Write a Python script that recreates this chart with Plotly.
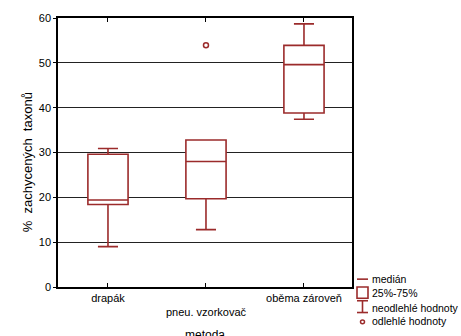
import plotly.graph_objects as go

categories = ["drapák", "pneu. vzorkovač", "oběma zároveň"]
tick_labels = ["drapák", "<br>pneu. vzorkovač", "oběma zároveň"]
lower_whisker = [9.0, 12.8, 37.4]
q1 = [18.4, 19.7, 38.8]
median = [19.4, 28.0, 49.6]
q3 = [29.6, 32.8, 53.9]
upper_whisker = [30.9, 32.8, 58.7]
outlier_cat = ["pneu. vzorkovač"]
outlier_val = [53.9]
y_ticks = [0, 10, 20, 30, 40, 50, 60]

RED = "#9b2b2b"
W, H = 461, 336
ML, MR, MT, MB = 58, 109, 13, 49
PW, PH = W - ML - MR, H - MT - MB

fig = go.Figure()
fig.add_trace(go.Box(
    x=categories, q1=q1, median=median, q3=q3,
    lowerfence=lower_whisker, upperfence=upper_whisker,
    fillcolor="white", line=dict(color=RED, width=1.6),
    width=0.41, whiskerwidth=0.5, boxpoints=False, showlegend=False,
    hoverinfo="skip",
))
fig.add_trace(go.Scatter(
    x=outlier_cat, y=outlier_val, mode="markers",
    marker=dict(symbol="circle-open", size=5, color=RED, line=dict(width=1.5, color=RED)),
    showlegend=False,
))

font = dict(family="Liberation Sans, Arial, sans-serif", size=11, color="black")

fig.update_layout(
    width=W, height=H, margin=dict(l=ML, r=MR, t=MT, b=MB),
    paper_bgcolor="white", plot_bgcolor="white", font=font,
    showlegend=False,
)
fig.update_xaxes(
    type="category", categoryorder="array", categoryarray=categories,
    tickmode="array", tickvals=categories, ticktext=tick_labels,
    range=[-0.51, 2.49], showgrid=False, zeroline=False,
    showline=True, linecolor="black", linewidth=1.5, mirror="ticks",
    ticks="inside", ticklen=4, tickcolor="black", tickfont=font,
)
fig.update_yaxes(
    range=[0, 60], tickvals=y_ticks, showgrid=True, gridcolor="#222222",
    gridwidth=1, zeroline=False, showline=True, linecolor="black",
    linewidth=1.5, mirror=True, ticks="outside", ticklen=3, tickcolor="black",
    tickfont=font,
)

def px(x):
    return (x - ML) / PW

def py(y):
    return (MT + PH - y) / PH

fig.add_annotation(text="metoda", xref="paper", yref="paper", x=px(205), y=py(328),
                   showarrow=False, font=dict(size=12), xanchor="center", yanchor="top",
                   borderpad=0)
fig.add_annotation(text="%  zachycených  taxonů", xref="paper", yref="paper", x=px(27), y=py(160),
                   showarrow=False, textangle=-90, font=dict(size=13), xanchor="center", yanchor="middle")

# legend drawn manually
legend_items = ["medián", "25%-75%", "neodlehlé hodnoty", "odlehlé hodnoty"]
legend_y = [279, 293, 308, 322]
for t, yy in zip(legend_items, legend_y):
    fig.add_annotation(text=t, xref="paper", yref="paper", x=px(371), y=py(yy),
                       showarrow=False, xanchor="left", yanchor="middle",
                       borderpad=0, font=dict(size=10.5))
fig.add_shape(type="line", xref="paper", yref="paper", x0=px(357), x1=px(368), y0=py(279), y1=py(279),
              line=dict(color=RED, width=1.6))
fig.add_shape(type="rect", xref="paper", yref="paper", x0=px(357), x1=px(368), y0=py(287), y1=py(298.5),
              line=dict(color=RED, width=1.6), fillcolor="white")
fig.add_shape(type="line", xref="paper", yref="paper", x0=px(362.5), x1=px(362.5), y0=py(301), y1=py(313),
              line=dict(color=RED, width=1.6))
fig.add_shape(type="line", xref="paper", yref="paper", x0=px(357), x1=px(368), y0=py(301), y1=py(301),
              line=dict(color=RED, width=1.6))
fig.add_shape(type="line", xref="paper", yref="paper", x0=px(357), x1=px(368), y0=py(313), y1=py(313),
              line=dict(color=RED, width=1.6))
fig.add_shape(type="circle", xref="paper", yref="paper", x0=px(360.5), x1=px(364.5), y0=py(320.5), y1=py(324.5),
              line=dict(color=RED, width=1.5))

fig.write_html("out.html")
